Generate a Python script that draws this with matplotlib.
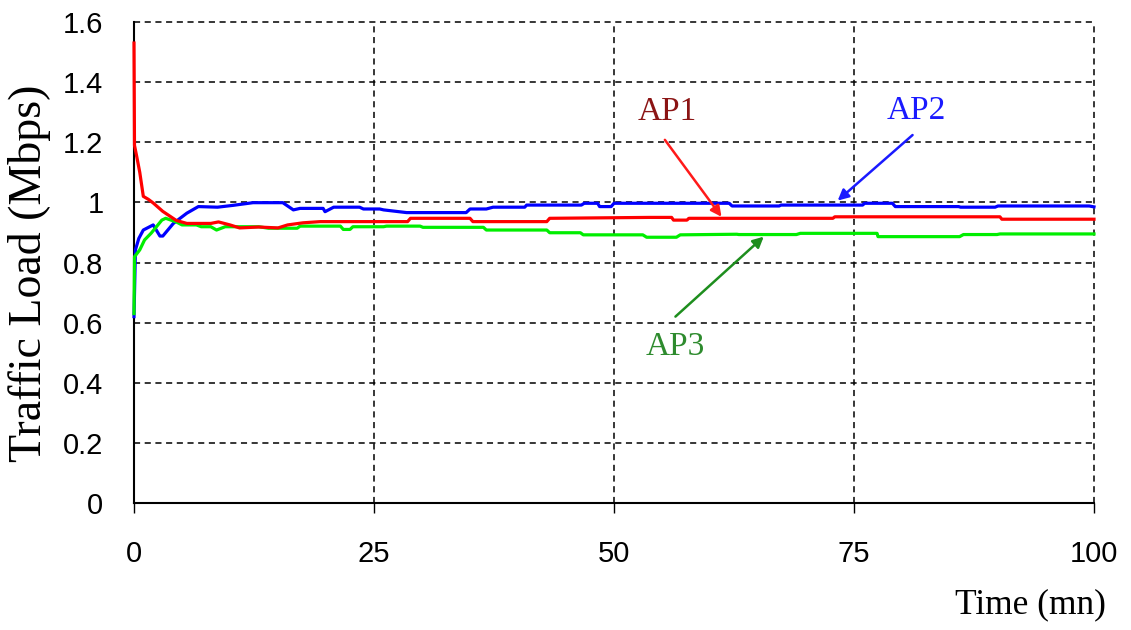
import matplotlib
matplotlib.use("Agg")
import matplotlib.pyplot as plt

# Average traffic load per access point over time
t_ap1 = [0, 0.05, 0.3, 0.6, 0.97, 1.5, 2.0, 3.0, 4.4, 5.5, 8.0, 8.8, 10.0, 11.0, 13.0, 15.0, 16.0, 17.6,
         19.4, 28.5, 28.8, 35.0, 35.3, 43.0, 43.3, 53.7, 56.0, 56.2, 57.6, 57.8, 72.8, 73.0, 90.2, 90.4, 100]
v_ap1 = [1.53, 1.19, 1.15, 1.10, 1.02, 1.01, 0.998, 0.97, 0.94, 0.93, 0.93, 0.935, 0.925, 0.915, 0.918, 0.915, 0.925, 0.932,
         0.936, 0.936, 0.947, 0.947, 0.936, 0.936, 0.947, 0.950, 0.950, 0.941, 0.941, 0.947, 0.947, 0.952, 0.952, 0.944, 0.944]

t_ap2 = [0, 0.15, 0.5, 0.97, 2.0, 2.7, 3.0, 4.1, 5.5, 6.7, 8.7, 10.3, 12.4, 15.5, 16.6, 17.3, 19.7, 19.9,
         20.8, 23.5, 23.9, 25.6, 26.0, 28.4, 34.6, 35.0, 36.7, 37.4, 40.7, 40.9, 46.6, 46.9, 48.3, 48.5, 49.7,
         50.0, 62.0, 62.3, 67.2, 67.4, 75.9, 76.1, 79.0, 79.3, 85.9, 86.1, 89.7, 90.0, 99.5, 100]
v_ap2 = [0.62, 0.842, 0.88, 0.908, 0.925, 0.888, 0.888, 0.93, 0.964, 0.986, 0.984, 0.99, 0.999, 0.999, 0.975, 0.98, 0.98, 0.969,
         0.984, 0.984, 0.978, 0.978, 0.975, 0.966, 0.966, 0.978, 0.978, 0.984, 0.984, 0.991, 0.991, 0.997, 0.997, 0.986, 0.986,
         0.997, 0.997, 0.988, 0.988, 0.991, 0.991, 0.997, 0.997, 0.986, 0.986, 0.984, 0.984, 0.988, 0.988, 0.985]

t_ap3 = [0, 0.05, 0.6, 1.1, 1.8, 2.9, 3.3, 4.4, 5.0, 6.5, 7.0, 8.0, 8.6, 9.5, 13.0, 14.0, 17.0, 17.3,
         21.5, 21.8, 22.5, 22.8, 26.0, 26.3, 29.8, 30.1, 36.4, 36.7, 43.0, 43.3, 46.5, 46.8, 53.0,
         53.4, 56.5, 56.9, 62.8, 63.0, 69.0, 69.4, 77.4, 77.5, 86.0, 86.4, 89.9, 90.2, 100]
v_ap3 = [0.63, 0.819, 0.842, 0.875, 0.898, 0.941, 0.947, 0.935, 0.925, 0.925, 0.919, 0.919, 0.908, 0.919, 0.919, 0.914, 0.914, 0.921,
         0.921, 0.910, 0.910, 0.919, 0.919, 0.921, 0.921, 0.917, 0.917, 0.908, 0.908, 0.899, 0.899, 0.892, 0.892,
         0.884, 0.884, 0.892, 0.894, 0.893, 0.893, 0.897, 0.897, 0.886, 0.886, 0.893, 0.893, 0.895, 0.895]

x_ticks = [0, 25, 50, 75, 100]
x_ticklabels = ["0", "25", "50", "75", "100"]
y_ticks = [0, 0.2, 0.4, 0.6, 0.8, 1.0, 1.2, 1.4, 1.6]
y_ticklabels = ["0", "0.2", "0.4", "0.6", "0.8", "1", "1.2", "1.4", "1.6"]

series_names = ["AP1", "AP2", "AP3"]

fig = plt.figure(figsize=(11.31, 6.30), dpi=100)
ax = fig.add_axes([134 / 1131, 1 - 503 / 630, (1094 - 134) / 1131, (503 - 22) / 630])

lw = 2.3
ax.plot(t_ap2, v_ap2, color="#0000ff", lw=lw, zorder=3, clip_on=False)
ax.plot(t_ap1, v_ap1, color="#ff0000", lw=lw, zorder=3.2, clip_on=False)
ax.plot(t_ap3, v_ap3, color="#00ee00", lw=lw, zorder=3.1, clip_on=False)

ax.set_xlim(0, 100)
ax.set_ylim(0, 1.6)
ax.set_xticks(x_ticks)
ax.set_xticklabels(x_ticklabels)
ax.set_yticks(y_ticks)
ax.set_yticklabels(y_ticklabels)

for lab in ax.get_xticklabels() + ax.get_yticklabels():
    lab.set_fontfamily("Liberation Sans")
    lab.set_fontsize(21)

ax.tick_params(axis="x", direction="out", length=7, width=1, pad=20, colors="black")
ax.tick_params(axis="y", length=0, pad=22)

ax.grid(True, color="black", linestyle=(0, (4, 3)), linewidth=1.1)
ax.set_axisbelow(True)
for gl in ax.xaxis.get_gridlines() + ax.yaxis.get_gridlines():
    gl.set_clip_on(False)
for side in ("top", "right"):
    ax.spines[side].set_visible(False)
for side in ("left", "bottom"):
    ax.spines[side].set_linewidth(1.5)
    ax.spines[side].set_zorder(2.5)

serif = ["Liberation Serif", "DejaVu Serif"]
fig.text(30 / 1131, 1 - 273 / 630, "Traffic Load (Mbps)", rotation=90, ha="center", va="center",
         fontsize=33, family=serif)
fig.text(1106 / 1131, 1 - 605 / 630, "Time (mn)", ha="right", va="center", fontsize=25.5, family=serif)

# Curve labels with pointer arrows
labels = {
    "AP1": dict(text=(55.5, 1.301), tail=(55.3, 1.208), head=(61.2, 0.952), tc="#8b1414", ac="#ff1a1a"),
    "AP2": dict(text=(81.5, 1.304), tail=(81.1, 1.224), head=(73.3, 1.006), tc="#1a1aff", ac="#1a1aff"),
    "AP3": dict(text=(56.4, 0.519), tail=(56.4, 0.620), head=(65.6, 0.886), tc="#2e8b2e", ac="#1e8e1e"),
}
for name in series_names:
    d = labels[name]
    ax.text(d["text"][0], d["text"][1], name, color=d["tc"], fontsize=24, family=serif,
            ha="center", va="center", zorder=5)
    ax.annotate("", xy=d["head"], xytext=d["tail"], zorder=5,
                arrowprops=dict(arrowstyle="-|>", color=d["ac"], lw=1.8, mutation_scale=16,
                                shrinkA=0, shrinkB=0))

fig.savefig("out.png", dpi=100)
